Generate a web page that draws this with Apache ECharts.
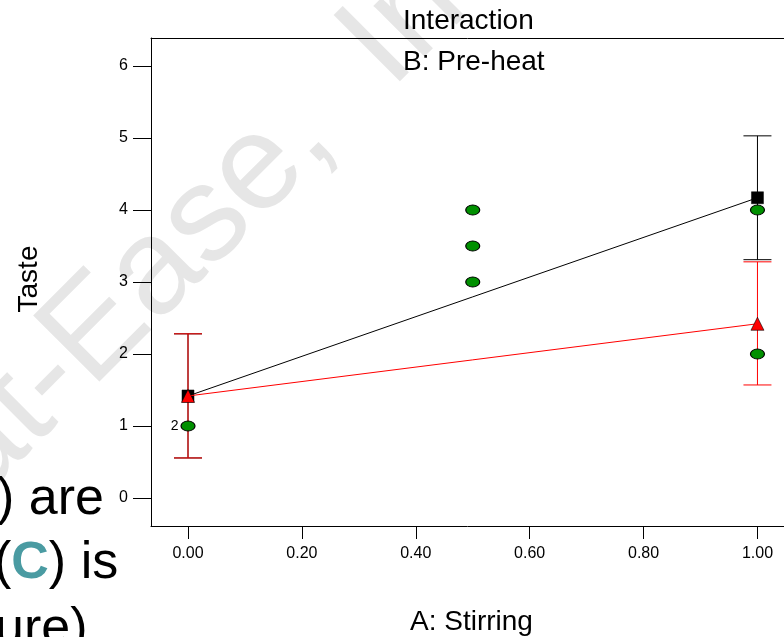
<!DOCTYPE html>
<html>
<head>
<meta charset="utf-8">
<script src="https://cdn.jsdelivr.net/npm/echarts@6/dist/echarts.min.js"></script>
<style>
  html, body { margin: 0; padding: 0; background: #ffffff; }
  #chart { width: 784px; height: 637px; }
</style>
</head>
<body>
<div id="chart"></div>
<script>
// ---- data ----
const xTicks = [0, 0.2, 0.4, 0.6, 0.8, 1.0];
const yTicks = [0, 1, 2, 3, 4, 5, 6];
const stirringLevels = [0, 1];
// B: Pre-heat high (black squares) and low (red triangles) predicted means
const preheatHigh = [1.417, 4.17];
const preheatLow = [1.417, 2.42];
// LSD bars
const highBarLow = [0.556, 3.31];
const highBarHigh = [2.28, 5.03];
const lowBarLow = [0.556, 1.57];
const lowBarHigh = [2.28, 3.28];
// design points (green)
const designX = [0, 0.5, 0.5, 0.5, 1, 1];
const designY = [1, 3, 3.5, 4, 4, 2];
const designCount = [2, 1, 1, 1, 1, 1];

const FONT = "'Liberation Sans', Arial, Helvetica, sans-serif";

const chart = echarts.init(document.getElementById('chart'), null, { renderer: 'canvas' });

function pairs(xs, ys) { return xs.map((x, i) => [x, ys[i]]); }
function bars(xs, lo, hi) { return xs.map((x, i) => [x, lo[i], hi[i]]); }

function errorBarRenderer(color) {
  return function (params, api) {
    const x = api.value(0);
    const top = api.coord([x, api.value(2)]);
    const bot = api.coord([x, api.value(1)]);
    const hw = 14;
    const style = { stroke: color, lineWidth: 1 };
    return {
      type: 'group',
      children: [
        { type: 'line', shape: { x1: top[0], y1: top[1], x2: bot[0], y2: bot[1] }, style: style },
        { type: 'line', shape: { x1: top[0] - hw, y1: top[1], x2: top[0] + hw, y2: top[1] }, style: style },
        { type: 'line', shape: { x1: bot[0] - hw, y1: bot[1], x2: bot[0] + hw, y2: bot[1] }, style: style }
      ]
    };
  };
}

const option = {
  backgroundColor: '#ffffff',
  animation: false,
  grid: { left: 151, top: 38, right: 0, bottom: 111, show: false },
  xAxis: [{
    type: 'value', min: -0.065, max: 1.0466,
    axisLine: { show: true, onZero: false, lineStyle: { color: '#000', width: 1 } },
    axisTick: { show: true, length: 13, customValues: xTicks, lineStyle: { color: '#000' } },
    axisLabel: { customValues: xTicks, formatter: v => Number(v).toFixed(2), margin: 20,
      fontSize: 16, color: '#000', fontFamily: FONT },
    splitLine: { show: false }
  }, {
    type: 'value', position: 'top', min: -0.065, max: 1.0466,
    axisLine: { show: true, onZero: false, lineStyle: { color: '#000', width: 1 } },
    axisTick: { show: false }, axisLabel: { show: false }, splitLine: { show: false }
  }],
  yAxis: {
    type: 'value', min: -0.389, max: 6.389,
    axisLine: { show: true, onZero: false, lineStyle: { color: '#000', width: 1 } },
    axisTick: { show: true, length: 18, customValues: yTicks, lineStyle: { color: '#000' } },
    axisLabel: { customValues: yTicks, margin: 23, fontSize: 16, color: '#000', fontFamily: FONT },
    splitLine: { show: false }
  },
  graphic: [
    { type: 'text', x: -138, y: 566, rotation: Math.PI / 4, z: -10, silent: true,
      style: { text: 'Stat-Ease,  Inc.', font: '136px ' + FONT, fill: '#e6e6e6',
        align: 'left', verticalAlign: 'middle' } },
    { type: 'text', x: 403, y: 21, z: 10,
      style: { text: 'Interaction', font: '28px ' + FONT, fill: '#000', align: 'left', verticalAlign: 'middle' } },
    { type: 'text', x: 403, y: 62, z: 10,
      style: { text: 'B: Pre-heat', font: '28px ' + FONT, fill: '#000', align: 'left', verticalAlign: 'middle' } },
    { type: 'text', x: 410, y: 622, z: 10,
      style: { text: 'A: Stirring', font: '28px ' + FONT, fill: '#000', align: 'left', verticalAlign: 'middle' } },
    { type: 'text', x: 29, y: 279, rotation: Math.PI / 2, z: 10,
      style: { text: 'Taste', font: '28px ' + FONT, fill: '#000', align: 'center', verticalAlign: 'middle' } },
    { type: 'text', x: -3, y: 500, z: 10,
      style: { text: ') are', font: '52px ' + FONT, fill: '#000', align: 'left', verticalAlign: 'middle' } },
    { type: 'text', x: -6, y: 564, z: 10,
      style: { text: '({c|C}) is', font: '52px ' + FONT, fill: '#000', align: 'left', verticalAlign: 'middle',
        rich: { c: { font: 'bold 52px ' + FONT, fill: '#4A9BA2' } } } },
    { type: 'text', x: -5, y: 630, z: 10,
      style: { text: 'ure)', font: '52px ' + FONT, fill: '#000', align: 'left', verticalAlign: 'middle' } }
  ],
  series: [
    { type: 'custom', name: 'B+ bars', renderItem: errorBarRenderer('#000000'),
      data: bars(stirringLevels, highBarLow, highBarHigh), z: 2, silent: true },
    { type: 'custom', name: 'B- bars', renderItem: errorBarRenderer('#ff0000'),
      data: bars(stirringLevels, lowBarLow, lowBarHigh), z: 2, silent: true },
    { type: 'line', name: 'B+', data: pairs(stirringLevels, preheatHigh), z: 3,
      lineStyle: { color: '#000', width: 1 }, symbol: 'rect', symbolSize: 12, showAllSymbol: true,
      itemStyle: { color: '#000', borderColor: '#000', borderWidth: 0.5 } },
    { type: 'line', name: 'B-', data: pairs(stirringLevels, preheatLow), z: 4,
      lineStyle: { color: '#ff0000', width: 1 }, symbol: 'triangle', symbolSize: 13, showAllSymbol: true,
      itemStyle: { color: '#ff0000', borderColor: '#000', borderWidth: 0.6 } },
    { type: 'scatter', name: 'Design points', z: 5,
      data: designX.map((x, i) => ({
        value: [x, designY[i]],
        label: { show: designCount[i] > 1, formatter: String(designCount[i]) }
      })),
      symbol: 'circle', symbolSize: [14, 10],
      itemStyle: { color: '#009000', borderColor: '#000', borderWidth: 1, opacity: 1 },
      label: { position: 'left', distance: 2, fontSize: 14, color: '#000', fontFamily: FONT }
    }
  ]
};

chart.setOption(option);
</script>
</body>
</html>
